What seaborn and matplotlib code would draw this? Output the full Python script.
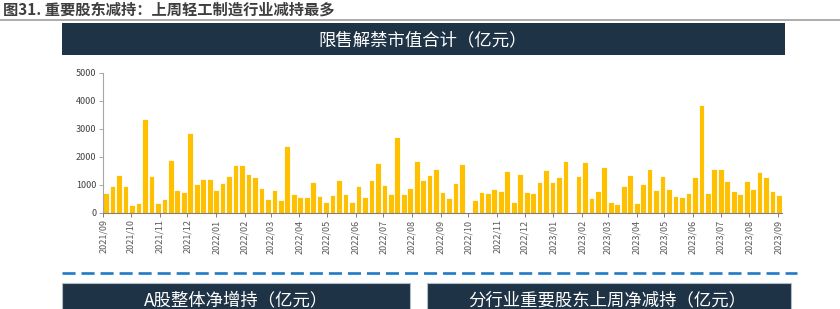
import numpy as np
import pandas as pd
import matplotlib
matplotlib.use("Agg")
import matplotlib.pyplot as plt
from matplotlib.patches import Rectangle
from matplotlib.lines import Line2D
import seaborn as sns

# ---------------- data ----------------
title = "图31. 重要股东减持：上周轻工制造行业减持最多"
banner_top = "限售解禁市值合计（亿元）"
banner_left = "A股整体净增持（亿元）"
banner_right = "分行业重要股东上周净减持（亿元）"

first_week = "2021-09-04"
values = [
    710, 965, 1350, 965, 260, 350, 3330, 1320, 350, 470,
    1860, 820, 740, 2850, 1035, 1200, 1200, 790, 1070, 1295,
    1695, 1695, 1375, 1270, 870, 470, 810, 450, 2365, 660,
    540, 565, 1105, 575, 365, 630, 1170, 665, 370, 965,
    570, 1145, 1770, 1000, 670, 2690, 670, 885, 1840, 1155,
    1335, 1555, 750, 532, 1053, 1751, 0, 461, 722, 686,
    840, 781, 1467, 367, 1385, 722, 686, 1089, 1527, 1077,
    1260, 1858, 0, 1290, 1822, 521, 769, 1633, 367, 296,
    947, 1325, 343, 1018, 1550, 817, 1290, 828, 580, 544,
    710, 1254, 3858, 710, 1550, 1550, 1112, 757, 675, 1112,
    840, 1432, 1278, 769, 615,
]
month_labels = [
    "2021/09", "2021/10", "2021/11", "2021/12",
    "2022/01", "2022/02", "2022/03", "2022/04", "2022/05", "2022/06",
    "2022/07", "2022/08", "2022/09", "2022/10", "2022/11", "2022/12",
    "2023/01", "2023/02", "2023/03", "2023/04", "2023/05", "2023/06",
    "2023/07", "2023/08", "2023/09",
]
y_ticks = [0, 1000, 2000, 3000, 4000, 5000]

weeks = pd.date_range(first_week, periods=len(values), freq="7D")
df = pd.DataFrame({"week": weeks.strftime("%Y-%m-%d"), "value": values})

# ---------------- style ----------------
sns.set_theme(style="white")
plt.rcParams["font.family"] = ["Noto Sans CJK SC", "DejaVu Sans"]
plt.rcParams["lines.scale_dashes"] = False

W, H = 840, 309
fig = plt.figure(figsize=(W / 100, H / 100), dpi=100)
fig.patch.set_facecolor("white")


def fx(x):
    return x / W


def fy(y):
    return 1 - y / H


NAVY = "#1f3347"

# title + rule
fig.text(fx(3), fy(10), title, ha="left", va="center", fontsize=11,
         color="#3f3f3f", weight="bold")
fig.add_artist(Line2D([fx(0), fx(840)], [fy(19.5), fy(19.5)],
                      color="#a6a6a6", lw=1.3))

# top banner
fig.add_artist(Rectangle((fx(62), fy(55)), fx(785) - fx(62), (55 - 23) / H,
                         transform=fig.transFigure, facecolor=NAVY,
                         edgecolor="none"))
fig.text(fx(423), fy(40), banner_top, ha="center", va="center",
         fontsize=12.5, color="white", weight="medium")

# chart axes
ax = fig.add_axes([fx(103.3), fy(212.5), fx(782) - fx(103.3),
                   (212.5 - 72.7) / H])
sns.barplot(data=df, x="week", y="value", color="#FFC000", saturation=1,
            width=0.88, edgecolor="white", linewidth=0.6, ax=ax)

t0 = weeks[0]
tick_pos = [(pd.Timestamp(lbl + "/01") - t0).days / 7 for lbl in month_labels]
ax.set_xticks(tick_pos)
ax.set_xticklabels(month_labels, rotation=90, fontsize=6.5, color="#595959")
ax.set_xlim(tick_pos[0] - 0.01, len(values) - 1 + 0.46)
ax.set_ylim(0, 5000)
ax.set_yticks(y_ticks)
ax.set_yticklabels([str(v) for v in y_ticks], fontsize=6.5, color="#404040")
ax.set_xlabel("")
ax.set_ylabel("")
for s in ["top", "right"]:
    ax.spines[s].set_visible(False)
ax.spines["left"].set_color("#a6a6a6")
ax.spines["left"].set_linewidth(0.8)
ax.spines["bottom"].set_color("#7f7f7f")
ax.spines["bottom"].set_linewidth(0.8)
ax.tick_params(axis="x", length=3, width=0.7, color="#7f7f7f", pad=2,
               bottom=True)
ax.tick_params(axis="y", length=3, width=0.7, color="#a6a6a6", pad=2,
               left=True)
ax.grid(False)

# dashed separator
fig.add_artist(Line2D([fx(62), fx(797)], [fy(273), fy(273)],
                      color="#1f7ac8", lw=1.9, dashes=(9.4, 4.3)))

# bottom banners
fig.add_artist(Rectangle((fx(62), fy(312)), fx(410) - fx(62), (312 - 283) / H,
                         transform=fig.transFigure, facecolor=NAVY,
                         edgecolor="#b4bcc6", lw=0.8))
fig.add_artist(Rectangle((fx(427), fy(312)), fx(791) - fx(427), (312 - 283) / H,
                         transform=fig.transFigure, facecolor=NAVY,
                         edgecolor="#b4bcc6", lw=0.8))
fig.text(fx(236), fy(300), banner_left, ha="center", va="center",
         fontsize=12.5, color="white", weight="medium")
fig.text(fx(607), fy(300), banner_right, ha="center", va="center",
         fontsize=12.5, color="white", weight="medium")

fig.savefig("out.png", dpi=100, facecolor="white")
